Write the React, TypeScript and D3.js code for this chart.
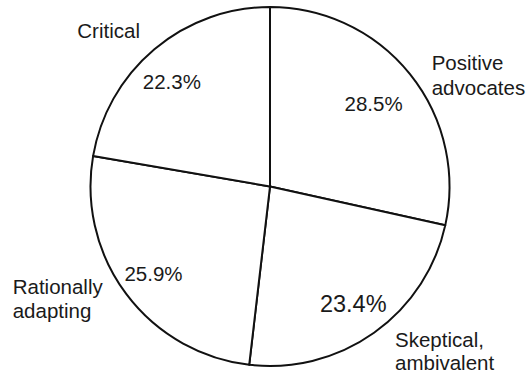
import React from 'react';
import * as d3 from 'd3';

// Audience segments, clockwise from 12 o'clock
const segments = ['Positive advocates', 'Skeptical, ambivalent', 'Rationally adapting', 'Critical'];
const shares = [28.5, 23.4, 25.9, 22.3];
const shareLabels = ['28.5%', '23.4%', '25.9%', '22.3%'];
const nameLines = [
  ['Positive', 'advocates'],
  ['Skeptical,', 'ambivalent'],
  ['Rationally', 'adapting'],
  ['Critical'],
];

// Layout
const W = 532;
const H = 377;
const CX = 270;
const CY = 186.5;
const R = 179.5;
const FONT = '"Liberation Sans", Arial, Helvetica, sans-serif';
const pctRadius = [0.74, 0.8, 0.81, 0.8];
const pctAngleShift = [0, 0, 0, -3]; // degrees
const pctSize = [20.5, 23.5, 20.5, 20.5];
// Segment name blocks: left edge, first baseline and line step, relative to the pie centre
const nameAnchor = [
  { dx: 161.7, dy: -116.5, step: 25 },
  { dx: 125, dy: 160.8, step: 22.7 },
  { dx: -257.3, dy: 107.8, step: 23.4 },
  { dx: -192.7, dy: -148.8, step: 23 },
];

type Datum = { name: string; value: number; label: string; lines: string[] };

const data: Datum[] = segments.map((name, i) => ({
  name,
  value: shares[i],
  label: shareLabels[i],
  lines: nameLines[i],
}));

export default function App() {
  const pie = d3
    .pie<Datum>()
    .sort(null)
    .value((d) => d.value)
    .startAngle(0)
    .endAngle(2 * Math.PI);
  const arcs = pie(data);
  const arc = d3.arc<d3.PieArcDatum<Datum>>().innerRadius(0).outerRadius(R);

  return (
    <svg
      width={W}
      height={H}
      style={{ position: 'absolute', left: 0, top: 0, background: '#fff' }}
      fontFamily={FONT}
    >
      <g transform={`translate(${CX},${CY})`}>
        {arcs.map((a) => (
          <path
            key={a.data.name}
            d={arc(a) || ''}
            fill="#fff"
            stroke="#111"
            strokeWidth={2}
            strokeLinejoin="round"
          />
        ))}
        {arcs.map((a, i) => {
          const r = R * pctRadius[i];
          const mid = (a.startAngle + a.endAngle) / 2 + (pctAngleShift[i] * Math.PI) / 180;
          const x = r * Math.sin(mid);
          const y = -r * Math.cos(mid);
          return (
            <text
              key={`p-${a.data.name}`}
              x={x}
              y={y + pctSize[i] * 0.36}
              textAnchor="middle"
              fontSize={pctSize[i]}
              fill="#1a1a1a"
            >
              {a.data.label}
            </text>
          );
        })}
        {arcs.map((a, i) => (
          <text
            key={`n-${a.data.name}`}
            x={nameAnchor[i].dx}
            y={nameAnchor[i].dy}
            fontSize={20.5}
            fill="#1a1a1a"
          >
            {a.data.lines.map((ln, j) => (
              <tspan key={ln} x={nameAnchor[i].dx} y={nameAnchor[i].dy + j * nameAnchor[i].step}>
                {ln}
              </tspan>
            ))}
          </text>
        ))}
      </g>
    </svg>
  );
}
